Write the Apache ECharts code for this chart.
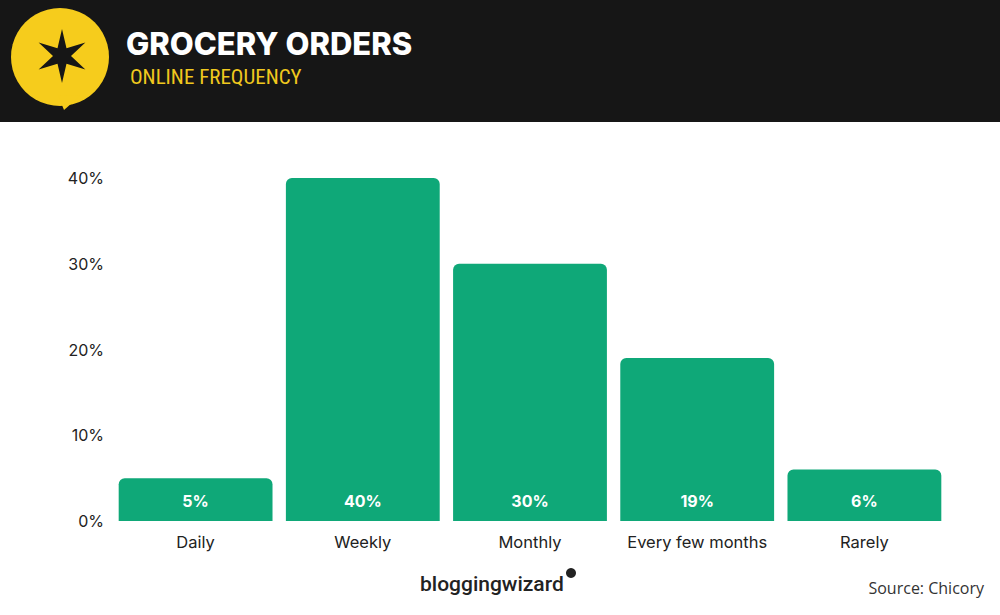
<!DOCTYPE html>
<html>
<head>
<meta charset="utf-8">
<script src="https://cdn.jsdelivr.net/npm/echarts@6/dist/echarts.min.js"></script>
<style>html,body{margin:0;padding:0;background:#fff}#c{width:1000px;height:615px}</style>
</head>
<body>
<div id="c"></div>
<script>
// data
var categories = ['Daily', 'Weekly', 'Monthly', 'Every few months', 'Rarely'];
var shares = [5, 40, 30, 19, 6];
var yTicks = [0, 10, 20, 30, 40];

var chart = echarts.init(document.getElementById('c'), null, {renderer: 'svg'});

// star points for the logo
var star = [];
for (var i = 0; i < 12; i++) {
  var r = i % 2 === 0 ? 27 : 9;
  var a = -Math.PI / 2 + i * Math.PI / 6;
  star.push([62 + r * Math.cos(a), 56 + r * Math.sin(a)]);
}

chart.setOption({
  animation: false,
  backgroundColor: '#fff',
  grid: {left: 112, right: 52, top: 178, bottom: 94},
  xAxis: {
    type: 'category',
    data: categories,
    axisLine: {show: false},
    axisTick: {show: false},
    axisLabel: {color: '#222', fontSize: 16.5, fontFamily: 'Inter', margin: 12, interval: 0}
  },
  yAxis: {
    type: 'value',
    min: 0, max: 40, interval: 10,
    splitLine: {show: false},
    axisLabel: {color: '#222', fontSize: 16, fontFamily: 'Inter', formatter: '{value}%', margin: 8}
  },
  series: [{
    type: 'bar',
    data: shares,
    barCategoryGap: '8%',
    itemStyle: {color: '#0fa878', borderRadius: [6, 6, 0, 0]},
    label: {
      show: true,
      position: 'insideBottom',
      distance: 12,
      color: '#fff',
      fontSize: 16,
      fontWeight: 'bold',
      fontFamily: 'Inter',
      formatter: '{c}%'
    }
  }],
  graphic: [
    {type: 'rect', shape: {x: 0, y: 0, width: 1000, height: 122}, style: {fill: '#161616'}},
    {type: 'circle', shape: {cx: 60, cy: 57, r: 49}, style: {fill: '#f6cc1c'}},
    {type: 'polygon', shape: {points: [[58, 95], [64, 110], [80, 96]]}, style: {fill: '#f6cc1c'}},
    {type: 'polygon', shape: {points: star}, style: {fill: '#161616'}},
    {type: 'text', left: 126, top: 28, style: {text: 'GROCERY ORDERS', fill: '#fff', font: '800 31px Inter'}},
    {type: 'text', left: 130, top: 66, style: {text: 'ONLINE FREQUENCY', fill: '#f0c81e', font: '21px "Roboto Condensed", Roboto, sans-serif'}},
    {type: 'text', left: 420, top: 573, style: {text: 'bloggingwizard', fill: '#222', font: '500 21px Roboto'}},
    {type: 'circle', shape: {cx: 571, cy: 573, r: 5}, style: {fill: '#222'}},
    {type: 'text', right: 16, top: 580, style: {text: 'Source: Chicory', fill: '#333', font: '16px "Open Sans"'}}
  ]
});
</script>
</body>
</html>
